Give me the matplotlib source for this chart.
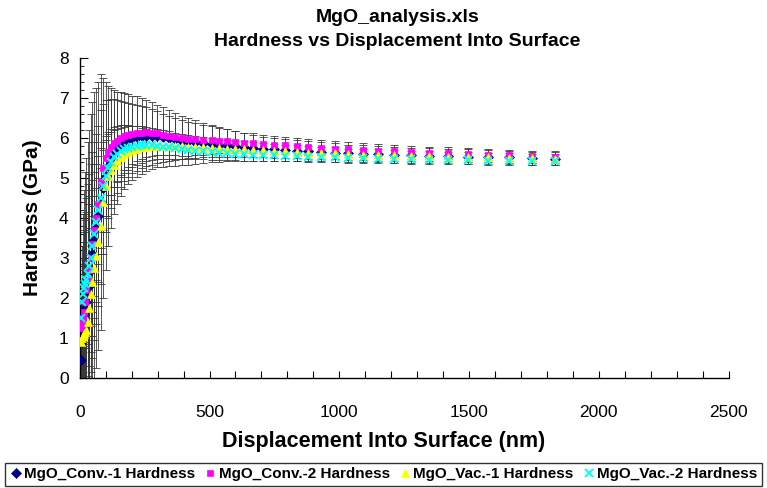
import matplotlib
matplotlib.use("Agg")
from matplotlib import pyplot as plt

# Data (displacement in nm, hardness in GPa)
displacement = [4, 7, 11, 15, 20, 25, 30, 36, 42, 49, 56, 64, 72, 81, 90,
                100, 110, 121, 133, 145, 158, 172, 187, 203, 220, 238, 257, 277, 298, 320,
                343, 367, 392, 418, 445, 473, 508, 535, 566, 597, 632, 667, 705, 747, 790,
                836, 878, 929, 982, 1033, 1090, 1148, 1210, 1275, 1345, 1418, 1495, 1572, 1653, 1741,
                1830]

conv1_hardness = [0.45, 0.9, 1.3, 1.6, 1.75, 1.9, 2.1, 2.3, 2.7, 3.1, 3.45, 3.75, 4.05, 4.4, 4.75,
                  5.05, 5.3, 5.5, 5.65, 5.76, 5.85, 5.92, 5.97, 6.01, 6.04, 6.05, 6.06, 6.06, 6.05, 6.03,
                  6.0, 5.97, 5.94, 5.92, 5.9, 5.88, 5.86, 5.84, 5.82, 5.8, 5.78, 5.76, 5.74, 5.72, 5.7,
                  5.69, 5.67, 5.66, 5.64, 5.62, 5.61, 5.6, 5.58, 5.57, 5.56, 5.55, 5.54, 5.53, 5.52, 5.5,
                  5.49]
conv2_hardness = [1.25, 1.35, 1.5, 1.65, 1.9, 2.2, 2.45, 2.7, 3.0, 3.35, 3.7, 4.0, 4.35, 4.9, 5.25,
                  5.5, 5.65, 5.78, 5.87, 5.94, 6.0, 6.05, 6.08, 6.11, 6.13, 6.14, 6.15, 6.14, 6.12, 6.09,
                  6.06, 6.03, 6.0, 5.98, 5.97, 5.96, 5.95, 5.94, 5.92, 5.9, 5.88, 5.87, 5.85, 5.83, 5.82,
                  5.8, 5.78, 5.76, 5.74, 5.72, 5.7, 5.68, 5.67, 5.65, 5.63, 5.62, 5.6, 5.59, 5.57, 5.55,
                  5.54]
vac1_hardness = [0.9, 1.0, 1.05, 1.1, 1.15, 1.2, 1.4, 1.75, 2.1, 2.4, 2.75, 3.05, 3.4, 3.8, 4.4,
                 4.8, 5.05, 5.2, 5.33, 5.43, 5.52, 5.6, 5.66, 5.71, 5.74, 5.77, 5.79, 5.8, 5.81, 5.81,
                 5.81, 5.8, 5.8, 5.79, 5.78, 5.77, 5.76, 5.75, 5.74, 5.73, 5.72, 5.71, 5.7, 5.68, 5.67,
                 5.66, 5.64, 5.63, 5.62, 5.6, 5.59, 5.58, 5.57, 5.56, 5.55, 5.54, 5.53, 5.52, 5.51, 5.5,
                 5.49]
vac2_hardness = [1.5, 1.9, 2.1, 2.25, 2.35, 2.45, 2.6, 2.8, 3.0, 3.3, 3.6, 3.9, 4.2, 4.5, 4.8,
                 5.05, 5.25, 5.4, 5.52, 5.6, 5.67, 5.72, 5.76, 5.79, 5.81, 5.82, 5.82, 5.82, 5.81, 5.79,
                 5.77, 5.75, 5.73, 5.71, 5.69, 5.67, 5.65, 5.64, 5.62, 5.61, 5.6, 5.59, 5.58, 5.57, 5.56,
                 5.55, 5.54, 5.53, 5.52, 5.51, 5.5, 5.49, 5.48, 5.47, 5.46, 5.45, 5.45, 5.44, 5.43, 5.42,
                 5.42]

# standard deviations (error bars)
conv1_err = [2.0, 2.4, 2.8, 3.1, 3.4, 3.6, 3.8, 3.9, 3.9, 3.8, 3.7, 3.5, 3.35, 3.2, 2.75,
             2.35, 2.0, 1.75, 1.55, 1.4, 1.3, 1.2, 1.12, 1.05, 1.0, 0.94, 0.88, 0.83, 0.78, 0.74,
             0.7, 0.66, 0.62, 0.58, 0.54, 0.5, 0.46, 0.43, 0.4, 0.37, 0.34, 0.32, 0.3, 0.28, 0.27,
             0.26, 0.25, 0.24, 0.23, 0.22, 0.21, 0.2, 0.2, 0.19, 0.19, 0.18, 0.18, 0.17, 0.17, 0.16,
             0.16]
conv2_err = [1.2, 1.5, 1.8, 2.0, 2.2, 2.3, 2.4, 2.4, 2.35, 2.3, 2.2, 2.1, 1.95, 1.8, 1.6,
             1.45, 1.3, 1.2, 1.1, 1.0, 0.92, 0.85, 0.8, 0.75, 0.7, 0.66, 0.62, 0.58, 0.55, 0.52,
             0.49, 0.46, 0.44, 0.42, 0.4, 0.37, 0.34, 0.32, 0.3, 0.28, 0.26, 0.25, 0.24, 0.23, 0.22,
             0.21, 0.2, 0.19, 0.19, 0.18, 0.18, 0.17, 0.17, 0.16, 0.16, 0.15, 0.15, 0.14, 0.14, 0.13,
             0.13]
vac1_err = [1.0, 1.2, 1.4, 1.6, 1.8, 1.9, 2.0, 2.0, 1.95, 1.9, 1.8, 1.7, 1.6, 1.45, 1.3,
            1.15, 1.05, 0.95, 0.87, 0.8, 0.74, 0.68, 0.63, 0.59, 0.55, 0.52, 0.49, 0.46, 0.43, 0.4,
            0.37, 0.34, 0.31, 0.29, 0.27, 0.25, 0.24, 0.23, 0.22, 0.21, 0.2, 0.19, 0.18, 0.17, 0.17,
            0.16, 0.16, 0.15, 0.15, 0.14, 0.14, 0.14, 0.13, 0.13, 0.13, 0.12, 0.12, 0.12, 0.12, 0.11,
            0.11]
vac2_err = [0.9, 1.1, 1.3, 1.45, 1.6, 1.7, 1.75, 1.75, 1.7, 1.65, 1.55, 1.45, 1.35, 1.25, 1.1,
            1.0, 0.9, 0.82, 0.75, 0.7, 0.65, 0.6, 0.56, 0.52, 0.48, 0.44, 0.4, 0.37, 0.34, 0.31,
            0.28, 0.26, 0.24, 0.22, 0.21, 0.2, 0.19, 0.18, 0.17, 0.16, 0.16, 0.15, 0.15, 0.14, 0.14,
            0.13, 0.13, 0.13, 0.12, 0.12, 0.12, 0.11, 0.11, 0.11, 0.11, 0.1, 0.1, 0.1, 0.1, 0.1,
            0.1]

series_labels = ["MgO_Conv.-1 Hardness", "MgO_Conv.-2 Hardness",
                 "MgO_Vac.-1 Hardness", "MgO_Vac.-2 Hardness"]

plt.rcParams['font.family'] = ['Liberation Sans', 'DejaVu Sans']

fig = plt.figure(figsize=(7.67, 4.88), dpi=100)
ax = fig.add_axes([0.104, 0.225, 0.846, 0.656])

series = [
	(conv1_hardness, conv1_err, "D", "#000080", 4.6),
	(conv2_hardness, conv2_err, "s", "#FF00FF", 5.0),
	(vac1_hardness, vac1_err, "^", "#FFFF00", 5.6),
	(vac2_hardness, vac2_err, "x", "#00FFFF", 5.4),
]

# error bars first so markers sit on top
for values, errs, marker, color, ms in series:
	ax.errorbar(displacement, values, yerr=errs, fmt="none", ecolor="#3a3a3a",
	            elinewidth=0.6, capsize=3.0, capthick=0.6, zorder=2)

handles = []
for (values, errs, marker, color, ms), label in zip(series, series_labels):
	line, = ax.plot(displacement, values, linestyle="none", marker=marker, markersize=ms,
	                markerfacecolor=color, markeredgecolor=color,
	                markeredgewidth=1.4 if marker == "x" else 0.5,
	                label=label, zorder=3)
	handles.append(line)

ax.set_xlim(0, 2500)
ax.set_ylim(0, 8)
ax.set_xticks([0, 500, 1000, 1500, 2000, 2500])
ax.set_xticks(range(0, 2501, 100), minor=True)
ax.set_yticks(range(0, 9))
ax.set_yticks([i * 0.2 for i in range(41)], minor=True)

ax.spines['top'].set_visible(False)
ax.spines['right'].set_visible(False)
ax.spines['left'].set_linewidth(1.0)
ax.spines['bottom'].set_linewidth(1.0)

ax.tick_params(axis="x", which="both", direction="in", length=5, width=0.8, labelsize=12.5, pad=19)
ax.tick_params(axis="y", which="major", direction="in", length=6, width=0.8, labelsize=12.5, pad=8)
ax.tick_params(axis="y", which="minor", direction="in", length=3, width=0.6)

fig.text(0.5, 1 - 442 / 488, "Displacement Into Surface (nm)", fontsize=15.5, fontweight="bold",
         ha="center", va="center")
ax.set_ylabel("Hardness (GPa)", fontsize=15, fontweight="bold", labelpad=12)

fig.text(0.518, 1 - 18 / 488, "MgO_analysis.xls", fontsize=14, fontweight="bold",
         ha="center", va="center")
fig.text(0.518, 1 - 42 / 488, "Hardness vs Displacement Into Surface", fontsize=14,
         fontweight="bold", ha="center", va="center")

leg = fig.legend(handles=handles, loc="lower left", mode="expand",
                 bbox_to_anchor=(5 / 767, 2 / 488, 757 / 767, 28 / 488), ncol=4,
                 frameon=True, fancybox=False, edgecolor="black", handlelength=0.8,
                 handletextpad=0.15, columnspacing=0.6, borderpad=0.3, borderaxespad=0,
                 prop={"weight": "bold", "size": 11})
leg.get_frame().set_linewidth(1.0)

fig.savefig("out.png", dpi=100)
